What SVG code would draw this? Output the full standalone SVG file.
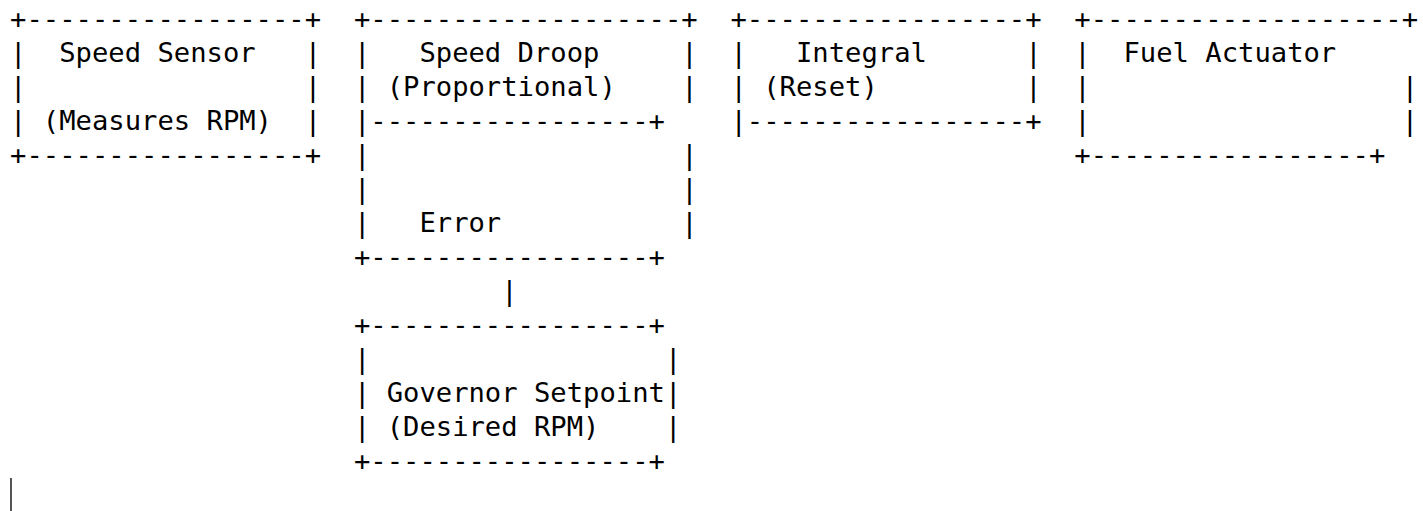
<svg xmlns="http://www.w3.org/2000/svg" width="1423" height="511" viewBox="0 0 1423 511" xml:space="preserve">
  <style>
    /* monospace grid: 16.373px per column, 34px per row */
    .t { font-family: "DejaVu Sans Mono", "Liberation Mono", monospace; font-size: 27.195px; fill: #000; white-space: pre; }
  </style>
  <rect width="1423" height="511" fill="#fff"/>

  <!-- Speed Sensor: columns 0-18 -->
  <g id="speed-sensor">
    <text class="t" x="10.1" y="28">+-----------------+</text>
    <text class="t" x="10.1" y="62">|  Speed Sensor   |</text>
    <text class="t" x="10.1" y="96">|                 |</text>
    <text class="t" x="10.1" y="130">| (Measures RPM)  |</text>
    <text class="t" x="10.1" y="164">+-----------------+</text>
  </g>

  <!-- Speed Droop / Error: columns 21-41 -->
  <g id="speed-droop">
    <text class="t" x="353.93" y="28">+-------------------+</text>
    <text class="t" x="353.93" y="62">|   Speed Droop     |</text>
    <text class="t" x="353.93" y="96">| (Proportional)    |</text>
    <text class="t" x="353.93" y="130">|-----------------+</text>
    <text class="t" x="353.93" y="164">|                   |</text>
    <text class="t" x="353.93" y="198">|                   |</text>
    <text class="t" x="353.93" y="232">|   Error           |</text>
    <text class="t" x="353.93" y="266">+-----------------+</text>
  </g>

  <!-- Governor Setpoint: columns 21-40 -->
  <g id="governor-setpoint">
    <text class="t" x="353.93" y="334">+-----------------+</text>
    <text class="t" x="353.93" y="368">|                  |</text>
    <text class="t" x="353.93" y="402">| Governor Setpoint|</text>
    <text class="t" x="353.93" y="436">| (Desired RPM)    |</text>
    <text class="t" x="353.93" y="470">+-----------------+</text>
  </g>

  <!-- Integral (Reset): columns 44-62 -->
  <g id="integral">
    <text class="t" x="730.51" y="28">+-----------------+</text>
    <text class="t" x="730.51" y="62">|   Integral      |</text>
    <text class="t" x="730.51" y="96">| (Reset)         |</text>
    <text class="t" x="730.51" y="130">|-----------------+</text>
  </g>

  <!-- Fuel Actuator: columns 65-85 -->
  <g id="fuel-actuator">
    <text class="t" x="1074.35" y="28">+-------------------+</text>
    <text class="t" x="1074.35" y="62">|  Fuel Actuator     |</text>
    <text class="t" x="1074.35" y="96">|                   |</text>
    <text class="t" x="1074.35" y="130">|                   |</text>
    <text class="t" x="1074.35" y="164">+-----------------+</text>
  </g>

  <!-- connectors -->
  <g id="connectors">
    <text class="t" x="501.29" y="300">|</text>
  </g>

  <!-- text caret -->
  <rect x="10" y="478" width="2" height="33" fill="#555"/>
</svg>
